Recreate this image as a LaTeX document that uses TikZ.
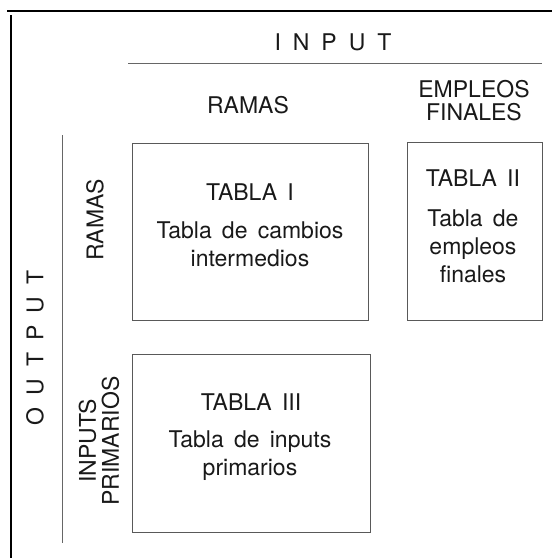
\documentclass[tikz,border=0pt]{standalone}
\usepackage{fontspec}
\setmainfont[WordSpace=1.6]{TeX Gyre Heros}
\newcommand{\lsp}{\hspace{6pt}}
\tikzset{
	tabla/.style={draw=black!65,line width=.5pt,inner sep=0pt},
	rotulo/.style={text=black!90,font=\fontsize{11.5}{11.5}\selectfont,align=center,inner sep=0pt},
	texto/.style={text=black!90,font=\fontsize{11.5}{14}\selectfont,align=center,inner sep=0pt},
}
\begin{document}
\begin{tikzpicture}[x=.5pt,y=-.5pt]
	\useasboundingbox(0,0)rectangle(552,558);
	\draw[line width=1.2pt](7,11)--(552,11);
	\draw[line width=1.2pt](11,15)--(11,558);
	\draw[black!60,line width=.5pt](128,63)--(542,63);
	\draw[black!60,line width=.5pt](62,135)--(62,543);
	\node[rotulo](input)at(333,42){I\lsp N\lsp P\lsp U\lsp T};
	\node[rotulo,rotate=90](output)at(35,348){O\lsp U\lsp T\lsp P\lsp U\lsp T};
	\node[rotulo](ramasin)at(248,105){RAMAS};
	\node[rotulo](finales)at(474,100.5){EMPLEOS\\FINALES};
	\node[rotulo,rotate=90](ramasout)at(95,220){RAMAS};
	\node[rotulo,rotate=90](primarios)at(99,441){INPUTS\\PRIMARIOS};
	\node[tabla,minimum width=118pt,minimum height=88.5pt](t1)at(250,231.5){};
	\node[tabla,minimum width=67.5pt,minimum height=89pt](t2)at(474.5,231){};
	\node[tabla,minimum width=119pt,minimum height=89pt](t3)at(251,443){};
	\foreach \t/\x/\y/\s in{1/250/192/I,2/473/178/II,3/251/402/III}{
		\node[texto](tit\t)at(\x,\y){TABLA \s};
	}
	\node[texto](txt1)at(250,244){Tabla de cambios\\intermedios};
	\node[texto](txt2)at(473,246.5){Tabla de\\empleos\\finales};
	\node[texto](txt3)at(250,456){Tabla de inputs\\primarios};
\end{tikzpicture}
\end{document}
